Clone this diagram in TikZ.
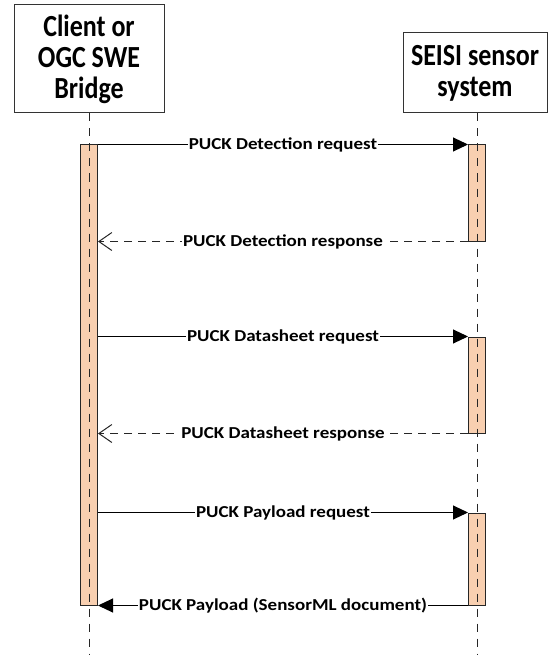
\documentclass[tikz,border=0pt]{standalone}
\usepackage{fontspec}
\usepackage{graphicx}
\setmainfont{Carlito}
\usetikzlibrary{arrows.meta}
\definecolor{actfill}{HTML}{F8CFB0}
\newcommand\tallln[1]{\scalebox{1}[1.18]{#1}}
\newcommand\flatln[1]{\scalebox{1}[0.88]{#1}}
\begin{document}
\begin{tikzpicture}[x=1pt,y=-1pt,
  lifebox/.style={draw=black!80,line width=1pt,fill=white,align=center,font=\bfseries\fontsize{26}{31}\selectfont,inner sep=0pt},
  actbar/.style={draw=black!85,line width=1pt,fill=actfill,minimum width=17pt,inner sep=0pt},
  lifeline/.style={draw=black!85,line width=1pt,dash pattern=on 8pt off 7pt},
  msg/.style={draw=black,line width=1pt},
  ret/.style={draw=black!85,line width=1pt,dash pattern=on 8pt off 6pt},
  lbl/.style={fill=white,font=\bfseries\fontsize{19}{21}\selectfont,inner xsep=1pt,inner ysep=1pt},
  synctip/.style={-{Triangle[length=15pt,width=14pt]}},
  opentip/.style={-{Straight Barb[length=13pt,width=18pt,line width=1pt]}}]
\useasboundingbox (0,0) rectangle (552,655);
% lifeline heads
\node[lifebox,minimum width=150pt,minimum height=108pt] (cli) at (89,59) {\tallln{Client or}\\\tallln{OGC SWE}\\\tallln{Bridge}};
\node[lifebox,minimum width=144pt,minimum height=80pt] (sei) at (475,73) {\tallln{SEISI sensor}\\\tallln{system}};
\coordinate (cliend) at (89,655);
\coordinate (seiend) at (477,655);
% activation bars
\node[actbar,minimum height=460pt] (lb) at (89,375) {};
\node[actbar,minimum height=96pt] (r1) at (477,193) {};
\node[actbar,minimum height=96pt] (r2) at (477,385) {};
\node[actbar,minimum height=92pt] (r3) at (477,559) {};
% lifelines
\draw[lifeline] (cli.south) -- (cliend);
\draw[lifeline] (sei.south -| seiend) -- (seiend);
% messages
\draw[msg,synctip] (lb.east |- r1.north) -- node[lbl]{\flatln{PUCK Detection request}} (r1.north west);
\draw[ret,opentip] (r1.south west) -- node[lbl]{\flatln{PUCK Detection response}} (lb.east |- r1.south);
\draw[msg,synctip] (lb.east |- r2.north) -- node[lbl]{\flatln{PUCK Datasheet request}} (r2.north west);
\draw[ret,opentip] (r2.south west) -- node[lbl]{\flatln{PUCK Datasheet response}} (lb.east |- r2.south);
\draw[msg,synctip] (lb.east |- r3.north) -- node[lbl]{\flatln{PUCK Payload request}} (r3.north west);
\draw[msg,synctip] (r3.south west) -- node[lbl]{\flatln{PUCK Payload (SensorML document)}} (lb.south east);
\end{tikzpicture}
\end{document}
